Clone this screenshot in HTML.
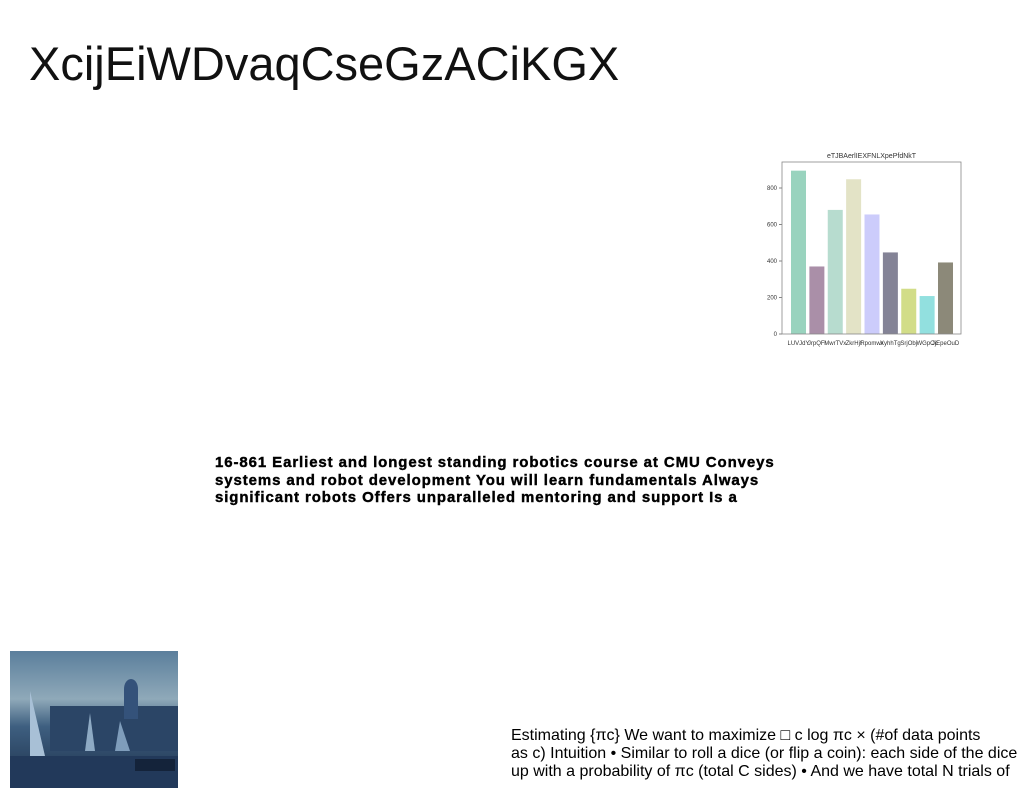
<!DOCTYPE html>
<html><head><meta charset="utf-8"><style>
body{margin:0;width:1024px;height:788px;background:#fff;position:relative;overflow:hidden;font-family:"Liberation Sans",sans-serif}
.t{position:absolute;white-space:nowrap}
</style></head><body>
<div class="t" style="left:29px;top:36px;font-size:47px;color:#111;letter-spacing:0px">XcijEiWDvaqCseGzACiKGX</div>
<div class="t" style="left:215px;top:454px;font-size:15px;font-weight:bold;line-height:17.5px;color:#000;letter-spacing:0.9px;-webkit-text-stroke:0.4px #000">16-861 Earliest and longest standing robotics course at CMU Conveys<br>systems and robot development You will learn fundamentals Always<br>significant robots Offers unparalleled mentoring and support Is a</div>
<div class="t" style="left:511px;top:727px;font-size:16px;line-height:18px;color:#000">Estimating {πc} We want to maximize □ c log πc × (#of data points<br>as c) Intuition • Similar to roll a dice (or flip a coin): each side of the dice<br>up with a probability of πc (total C sides) • And we have total N trials of</div>
<svg style="position:absolute;left:10px;top:651px" width="168" height="137">
<defs><linearGradient id="sky" x1="0" y1="0" x2="0" y2="1"><stop offset="0" stop-color="#5b7f9c"/><stop offset="0.35" stop-color="#8fa9b9"/><stop offset="0.55" stop-color="#3e5f80"/><stop offset="1" stop-color="#1c2f4a"/></linearGradient></defs>
<rect width="168" height="137" fill="url(#sky)"/>
<rect x="40" y="55" width="128" height="45" fill="#2b4566"/>
<ellipse cx="121" cy="38" rx="7" ry="10" fill="#34527a"/><rect x="114" y="38" width="14" height="30" fill="#34527a"/>
<path d="M20 105 L20 40 L35 105Z" fill="#a8c0d6"/><path d="M75 100 L80 62 L85 100Z" fill="#8eaac4"/><path d="M105 100 L110 70 L120 100Z" fill="#7f9dbb"/>
<rect x="0" y="105" width="168" height="32" fill="#22395a"/><rect x="125" y="108" width="40" height="12" fill="#14233a"/>
</svg>
<svg style="position:absolute;left:0;top:0" width="1024" height="788" id="chart"></svg>
<script>
const categories=["LUVJdY","JrpQFl","MwrTVx","ZkrHjt","Rpomwx","XyhhTg","SrjObj","WGpOc","JjEpeOuD"];
const values=[895,370,680,848,655,447,248,208,392];
const yTicks=[0,200,400,600,800];
const colors=["#99d3be","#aa8fa8","#b7dccf","#e3e3c6","#ccccfb","#848396","#d2dd88","#92e0df","#8c8979"];
const NS="http://www.w3.org/2000/svg";
const svg=document.getElementById('chart');
const L=782,R=961,T=162,B=334;
const y=v=>B-v*(146/800);
const x=i=>798.5+i*18.375;
function mk(tag,attrs){const e=document.createElementNS(NS,tag);for(const k in attrs)e.setAttribute(k,attrs[k]);svg.appendChild(e);return e;}
values.forEach((v,i)=>{
 const r=mk('rect',{x:x(i)-7.5,y:y(v),width:15,height:B-y(v),fill:colors[i]});
 
 
 const t=mk('text',{x:x(i),y:B+11,'font-size':6,'text-anchor':'middle',fill:'#333','font-family':'Liberation Sans'});
 t.textContent=categories[i];
 
 
});
yTicks.forEach(v=>{
 mk('line',{x1:L-3,x2:L,y1:y(v),y2:y(v),stroke:'#333','stroke-width':0.6});
 const t=mk('text',{x:L-5,y:y(v)+2,'font-size':6,'text-anchor':'end',fill:'#333','font-family':'Liberation Sans'});
 t.textContent=v;
 
 
});
const f=mk('rect',{x:L,y:T,width:R-L,height:B-T,fill:'none',stroke:'#888','stroke-width':0.8});


const ti=mk('text',{x:(L+R)/2,y:158,'font-size':7,'text-anchor':'middle',fill:'#333','font-family':'Liberation Sans'});
ti.textContent='eTJBAerlIEXFNLXpePfdNkT';


</script>
</body></html>
